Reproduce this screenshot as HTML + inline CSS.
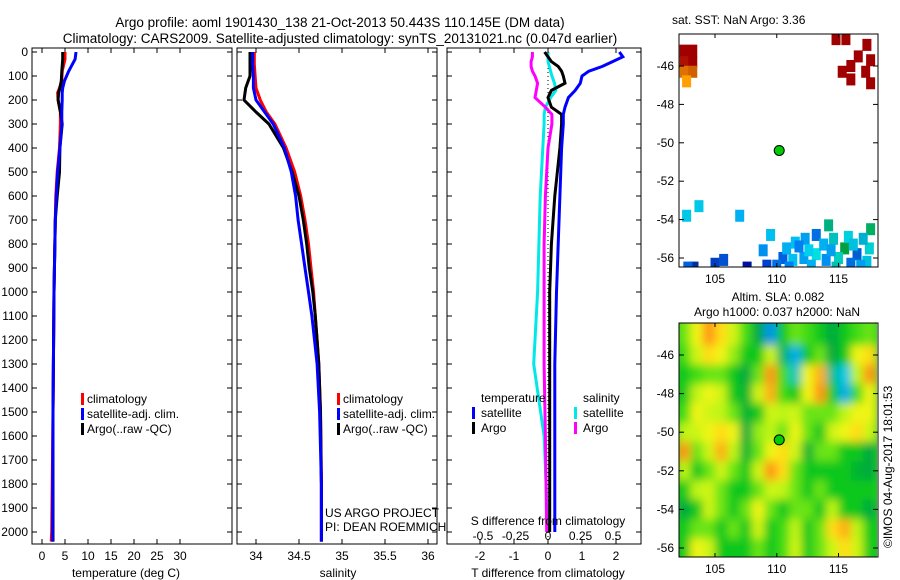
<!DOCTYPE html>
<html><head><meta charset="utf-8">
<style>
body{margin:0;background:#fff;}
svg{display:block;font-family:"Liberation Sans",sans-serif;}
</style></head>
<body>
<svg id="c" width="900" height="580" viewBox="0 0 900 580" xmlns="http://www.w3.org/2000/svg">
<defs>
<filter id="blur" x="0" y="0" width="1" height="1"><feGaussianBlur stdDeviation="4.5"/></filter>
<clipPath id="clipMap2"><rect x="679" y="323" width="198" height="234"/></clipPath>
<clipPath id="clipMap1"><rect x="679" y="34" width="199" height="233"/></clipPath>
</defs>
<text x="340" y="27" font-size="13.5" text-anchor="middle">Argo profile: aoml 1901430_138 21-Oct-2013 50.443S 110.145E (DM data)</text>
<text x="340" y="43" font-size="13.5" text-anchor="middle">Climatology: CARS2009. Satellite-adjusted climatology: synTS_20131021.nc (0.047d earlier)</text>
<g id="g"></g>
<text x="672" y="24" font-size="12" text-anchor="start">sat. SST: NaN Argo: 3.36</text>
<text x="778" y="301" font-size="12" text-anchor="middle">Altim. SLA: 0.082</text>
<text x="777" y="316" font-size="12" text-anchor="middle">Argo h1000: 0.037 h2000: NaN</text>
<text transform="translate(892,548) rotate(-90)" font-size="12">©IMOS 04-Aug-2017 18:01:53</text>
</svg>
<script>
// ---- data ----
const tDepth = [0,30,80,120,150,170,200,250,300,400,500,600,700,1000,1500,2000,2040];
const tClim  = [5.0,5.0,4.4,4.3,3.8,3.4,3.5,4.0,4.0,3.8,3.3,3.0,2.9,2.6,2.4,2.1,2.0];
const tSat   = [7.4,7.2,5.8,4.9,4.5,4.4,4.4,4.3,4.3,3.9,3.4,3.1,2.9,2.6,2.4,2.3,2.3];
const tArgo  = [4.5,4.5,4.3,4.2,3.9,3.6,3.5,4.0,4.4,3.9,3.8,3.3,2.9,2.6,2.4,2.4,2.4];
const sDepth = [0,50,100,150,200,250,300,400,500,600,700,800,900,1000,1100,1200,1300,1500,1800,2040];
const sClim  = [33.98,33.98,33.99,34.0,34.05,34.12,34.22,34.35,34.45,34.52,34.57,34.61,34.64,34.67,34.69,34.71,34.73,34.75,34.76,34.76];
const sSat   = [33.96,33.96,33.97,33.97,34.0,34.1,34.2,34.33,34.41,34.46,34.49,34.53,34.57,34.61,34.65,34.68,34.71,34.74,34.76,34.76];
const sArgo  = [33.93,33.93,33.93,33.88,33.86,34.0,34.15,34.32,34.42,34.50,34.55,34.59,34.62,34.66,34.69,34.71,34.73,34.75,34.76,34.76];
const dDepth = [0,20,40,60,80,100,130,160,190,230,260,300,400,600,800,1000,1300,1600,2000];
const dTSat  = [2.1,2.2,1.9,1.6,1.2,1.0,0.95,0.8,0.6,0.5,0.45,0.45,0.4,0.35,0.3,0.25,0.2,0.2,0.2];
const dTArgo = [-0.1,0.0,0.1,0.3,0.4,0.45,0.5,0.1,0.0,0.1,0.4,0.4,0.35,0.2,0.1,0.05,0.05,0.05,0.05];
const dSSat  = [0.0,0.0,0.0,0.01,0.02,0.03,0.05,0.06,0.02,-0.02,-0.03,-0.03,-0.04,-0.06,-0.07,-0.08,-0.11,-0.03,0.0];
const dSArgo = [-0.12,-0.12,-0.13,-0.13,-0.12,-0.1,-0.08,-0.09,-0.1,-0.02,0.03,0.03,0.0,-0.02,-0.03,-0.03,-0.03,-0.02,-0.01];
const depthTicks = [0,100,200,300,400,500,600,700,800,900,1000,1100,1200,1300,1400,1500,1600,1700,1800,1900,2000];
const tTicks = [0,5,10,15,20,25,30];
const sTicks = ["34","34.5","35","35.5","36"];
const dTTicks = ["-2","-1","0","1","2"];
const dSTicks = ["-0.5","-0.25","0","0.25","0.5"];
const latTicks = [-46,-48,-50,-52,-54,-56];
const lonTicks = [105,110,115];
const argoPos = [110.2,-50.4];
// SST cells: lon, lat, colour
const sstCells = [
[102.5,-45.2,"#a00000"],[103.2,-45.2,"#a00000"],[102.5,-45.8,"#b01000"],[103.2,-45.8,"#a00000"],[102.5,-46.3,"#e07000"],[103.2,-46.3,"#d06000"],[102.7,-46.8,"#ffa000"],
[114.8,-44.6,"#a00000"],[115.6,-44.6,"#a00000"],[116.6,-45.5,"#a00000"],[117.3,-44.9,"#a00000"],[117.6,-45.7,"#a00000"],
[115.3,-46.3,"#a00000"],[116.0,-46.0,"#a00000"],[116.0,-46.7,"#a00000"],[117.2,-46.3,"#a00000"],[117.6,-46.9,"#a00000"],
[102.7,-53.8,"#00c8e8"],[103.7,-53.3,"#00c8e8"],[107.0,-53.8,"#00b0f0"],[109.5,-54.8,"#00c0f0"],[108.9,-55.6,"#0090f0"],
[111.5,-55.2,"#00c0f0"],[112.3,-55.0,"#00a0f0"],[113.2,-54.8,"#0070e0"],[114.2,-54.3,"#00b080"],[114.6,-55.0,"#00c0c0"],[115.5,-55.5,"#00a040"],
[117.6,-54.5,"#00b060"],[117.5,-55.5,"#00d0d0"],[116.5,-55.8,"#0060d0"],[110.5,-56.0,"#0060e0"],[111.3,-56.1,"#00c0f0"],[112.2,-56.0,"#00a0f0"],
[113.2,-55.8,"#00e0e0"],[114.0,-56.1,"#0090f0"],[115.0,-56.0,"#00d0c0"],[116.0,-56.3,"#0070e0"],[117.3,-56.2,"#00c0e0"],[109.2,-56.4,"#0040d0"],
[110.0,-56.4,"#0070e0"],[105.0,-56.3,"#0040c0"],[105.7,-56.1,"#0050d0"],[107.6,-56.5,"#0010a0"],[103.3,-56.5,"#0030a0"],[102.8,-56.5,"#0060e0"],
[112.8,-56.4,"#00b0f0"],[114.8,-56.5,"#00c0b0"],[116.8,-56.4,"#00a0f0"],[111.8,-55.4,"#0080f0"],[113.8,-55.3,"#00b0f0"],[115.8,-54.9,"#00d0e0"],
[110.8,-55.5,"#00b0f0"],[112.6,-55.6,"#00d0f0"],[114.4,-55.6,"#00a0f0"],[116.2,-55.3,"#00c0e0"],[117.0,-55.0,"#00b0d0"],[111.0,-56.5,"#0080f0"]
];
// SLA grid (lon 102.5..117.5, lat -45..-56)
const slaLons = [102.5,103.5,104.5,105.5,106.5,107.5,108.5,109.5,110.5,111.5,112.5,113.5,114.5,115.5,116.5,117.5];
const slaLats = [-44.5,-45,-46,-47,-48,-49,-50,-51,-52,-53,-54,-55,-56,-56.8];
const slaVals = [
[0.3,0.8,1.3,1.0,0.6,0.2,-0.3,-1.2,0,0.3,0.2,0,-0.3,0,0.2,0.3],
[0.3,0.8,1.3,1.0,0.6,0.2,-0.3,-1.2,0,0.3,0.2,0,-0.3,0,0.2,0.3],
[0.2,0.6,1.0,0.8,0.4,0,0,0.6,-0.4,-1.0,0,0.3,-0.3,0,0.8,1.0],
[0,0.2,0.3,0.3,0,-0.3,0.3,1.3,0.2,-0.6,0.8,1.2,-0.5,-0.8,0.5,1.3],
[0,0.5,0.8,0.6,0,-0.2,0.6,1.2,0.2,0,0.8,1.3,0,-1.0,0.2,0.8],
[0.2,0.8,0.6,0.5,0.3,-0.2,0,0.6,0.5,0.6,0.3,0.3,0.3,0.5,0.8,0.8],
[0.5,0.6,0.8,1.0,0.8,-0.3,0.4,0.5,0.3,0.8,0.3,0,0.6,0.8,1.0,0.6],
[1.3,0.3,0.6,1.2,0.5,-0.2,0.3,0.8,1.0,0.6,-0.2,0.3,0.3,0,0,-0.3],
[0.5,0,0.3,0.6,0.3,0,0.6,1.3,1.0,0.3,0,0,0,0,-0.2,-0.3],
[0,0.5,0.6,0.3,0,0,0.3,0.6,0.5,0.3,0,0.3,0,0,0,0],
[-0.3,0,0.6,0.3,0,0.3,0.8,0.3,0,0.3,0.3,0,0.5,0,0,-0.3],
[0,0.3,0.3,0,0.3,0,0.6,0,0.2,0.5,0,0.3,1.0,1.2,0.5,0],
[0,0.8,0.6,0,0,0,0.3,0,0.2,0.6,0,0.3,0.6,1.0,0.6,0],
[0,0.8,0.6,0,0,0,0.3,0,0.2,0.6,0,0.3,0.6,1.0,0.6,0]
];
// ---- helpers ----
const NS = "http://www.w3.org/2000/svg";
const G = document.getElementById('g');
function mk(tag, attrs, parent){const e=document.createElementNS(NS,tag);for(const k in attrs)e.setAttribute(k,attrs[k]);(parent||G).appendChild(e);return e;}
const yTop=52, pxPerM=0.24, frameTop=48, frameBot=544;
const yD = d => yTop + d*pxPerM;
const xT = v => 42 + v*4.6;
const xS = v => 256 + (v-34)*86;
const xDT = v => 548 + v*34;
const xDS = v => 548 + v*130;
function frame(x0,x1,name){
  const r=mk('rect',{x:x0,y:frameTop,width:x1-x0,height:frameBot-frameTop,fill:'none',stroke:'#000','stroke-width':1});
  
  
  depthTicks.forEach(d=>{
    mk('line',{x1:x0,x2:x0+5,y1:yD(d),y2:yD(d),stroke:'#000'});
    mk('line',{x1:x1,x2:x1-5,y1:yD(d),y2:yD(d),stroke:'#000'});
  });
}
function line(xs,ds,fx,color,name,w){
  const p=xs.map((v,i)=>fx(v).toFixed(1)+','+yD(ds[i]).toFixed(1)).join(' ');
  const e=mk('polyline',{points:p,fill:'none',stroke:color,'stroke-width':w||3,'stroke-linejoin':'miter'});
  
  
}
function txt(x,y,s,anchor,name,size){
  const e=mk('text',{x:x,y:y,'font-size':size||12,'text-anchor':anchor||'start'});
  e.textContent=s;
  
  
  return e;
}
function xticks(vals,fx,x0,x1,y,name){
  vals.forEach(v=>{const x=fx(parseFloat(v));
    mk('line',{x1:x,x2:x,y1:frameTop,y2:frameTop+5,stroke:'#000'});
    mk('line',{x1:x,x2:x,y1:frameBot,y2:frameBot-5,stroke:'#000'});
    txt(x,y,String(v),'middle',name);});
}
depthTicks.forEach(d=>txt(28,yD(d)+4,String(d),'end','depth-tick-label'));
// ---- panel 1 temperature ----
frame(32,232,'temperature-panel-frame');
xticks(tTicks,xT,32,232,560,'temperature-tick-label');
txt(126,577,'temperature (deg C)','middle','temperature-axis-title');
line(tClim,tDepth,xT,'#ff0000','temperature-climatology-line');
line(tArgo,tDepth,xT,'#000000','temperature-argo-line');
line(tSat,tDepth,xT,'#0000ff','temperature-satellite-line');
function legend(x,y,prefix){
  const items=[['climatology','#ff0000'],['satellite-adj. clim.','#0000ff'],['Argo(..raw -QC)','#000000']];
  items.forEach((it,i)=>{
    const r=mk('rect',{x:x,y:y+i*15-9,width:3,height:12,fill:it[1]});
    
    
    txt(x+6,y+i*15+1,it[0],'start',prefix+'-legend-entry');
  });
}
legend(81,402,'temperature');
// ---- panel 2 salinity ----
frame(237,437,'salinity-panel-frame');
xticks(sTicks,xS,237,437,560,'salinity-tick-label');
txt(338,577,'salinity','middle','salinity-axis-title');
line(sClim,sDepth,xS,'#ff0000','salinity-climatology-line');
line(sArgo,sDepth,xS,'#000000','salinity-argo-line');
line(sSat,sDepth,xS,'#0000ff','salinity-satellite-line');
legend(337,402,'salinity');
txt(325,517,'US ARGO PROJECT','start','project-label');
txt(325,531,'PI: DEAN ROEMMICH','start','pi-label');
// ---- panel 3 differences ----
frame(447,641,'difference-panel-frame');
const zl=mk('line',{x1:548,x2:548,y1:yTop,y2:yD(2040),stroke:'#000','stroke-dasharray':'1,3'});


line(dSSat,dDepth,xDS,'#00e8e8','salinity-diff-satellite-line');
line(dSArgo,dDepth,xDS,'#ff00ff','salinity-diff-argo-line');
line(dTArgo,dDepth,xDT,'#000000','temperature-diff-argo-line');
line(dTSat,dDepth,xDT,'#0000ff','temperature-diff-satellite-line');
dTTicks.forEach(v=>{const x=xDT(parseFloat(v));
  mk('line',{x1:x,x2:x,y1:frameBot,y2:frameBot-5,stroke:'#000'});
  mk('line',{x1:x,x2:x,y1:frameTop,y2:frameTop+5,stroke:'#000'});
  txt(x,560,v,'middle','temp-diff-tick-label');});
dSTicks.forEach(v=>txt(xDS(parseFloat(v)),540,v,'middle','sal-diff-tick-label'));
txt(548,525,'S difference from climatology','middle','sal-diff-axis-title');
txt(548,577,'T difference from climatology','middle','temp-diff-axis-title');
txt(481,402,'temperature','start','diff-legend-temp-header');
txt(583,402,'salinity','start','diff-legend-sal-header');
[['satellite','#0000ff',472],['Argo','#000000',472],['satellite','#00e8e8',574],['Argo','#ff00ff',574]].forEach((it,i)=>{
  const yy=416+(i%2)*15;
  const r=mk('rect',{x:it[2],y:yy-9,width:3,height:12,fill:it[1]});
  
  
  txt(it[2]+9,yy+1,it[0],'start','diff-legend-entry');
});
// ---- maps ----
const latY1 = v => 66 + (-46 - v)*19.2;
const latY2 = v => 355 + (-46 - v)*19.3;
const lonX = v => 715 + (v-105)*12.35;
function slaColor(v){
  const stops=[[-1.2,[0,150,230]],[-0.7,[0,210,230]],[-0.3,[0,170,60]],[0.1,[20,210,20]],[0.5,[190,245,20]],[0.9,[255,245,20]],[1.3,[255,150,20]]];
  if(v<=stops[0][0])return 'rgb('+stops[0][1]+')';
  for(let i=1;i<stops.length;i++){if(v<=stops[i][0]){const a=stops[i-1],b=stops[i],t=(v-a[0])/(b[0]-a[0]);
    return 'rgb('+a[1].map((c,k)=>Math.round(c+(b[1][k]-c)*t)).join(',')+')';}}
  return 'rgb('+stops[stops.length-1][1]+')';
}
const bg=mk('rect',{x:679,y:323,width:198,height:234,fill:'#22cc22'});


const hg=mk('g',{'clip-path':'url(#clipMap2)'});
const hgi=mk('g',{filter:'url(#blur)'},hg);
mk('rect',{x:670,y:314,width:216,height:252,fill:'#22cc22'},hgi);
slaLats.forEach((la,i)=>{
  slaLons.forEach((lo,j)=>{
    const c=mk('rect',{x:lonX(lo-0.5),y:latY2(la+0.5),width:12.6,height:19.6,fill:slaColor(slaVals[i][j])},hgi);
    
    
  });
});
function mapFrame(y0,y1,fy,name){
  const r=mk('rect',{x:679,y:y0,width:199,height:y1-y0,fill:'none',stroke:'#000'});
  
  
  latTicks.forEach(v=>{const y=fy(v);
    mk('line',{x1:679,x2:684,y1:y,y2:y,stroke:'#000'});
    mk('line',{x1:878,x2:873,y1:y,y2:y,stroke:'#000'});
    txt(674,y+4,String(v),'end','latitude-tick-label');});
  lonTicks.forEach(v=>{const x=lonX(v);
    mk('line',{x1:x,x2:x,y1:y0,y2:y0+4,stroke:'#000'});
    mk('line',{x1:x,x2:x,y1:y1,y2:y1-4,stroke:'#000'});
    txt(x,y1+16,String(v),'middle','longitude-tick-label');});
  const c=mk('circle',{cx:lonX(argoPos[0]),cy:fy(argoPos[1]),r:5,fill:'#00cc00',stroke:'#000','stroke-width':1});
  
  
}
const sg=mk('g',{'clip-path':'url(#clipMap1)'});
sstCells.forEach(s=>{
  const r=mk('rect',{x:lonX(s[0])-4.5,y:latY1(s[1])-6,width:9,height:12,fill:s[2]},sg);
  
  
});
mapFrame(34,267,latY1,'sst-map-frame');
mapFrame(323,557,latY2,'sla-map-frame');
</script>
</body></html>
